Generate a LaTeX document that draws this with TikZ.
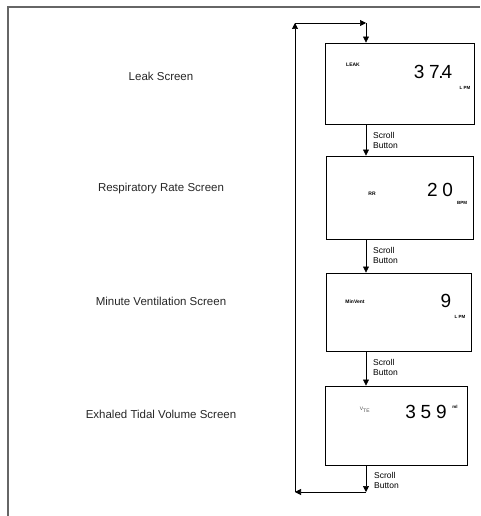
\documentclass[tikz,border=0pt]{standalone}
\usepackage{fontspec}
\setmainfont{Liberation Sans}
\newfontfamily\lcd[LetterSpace=25]{Liberation Sans}
\usetikzlibrary{arrows.meta}
\begin{document}
\begin{tikzpicture}[x=1pt,y=-1pt,
  screenbox/.style={draw,line width=0.9pt,inner sep=0pt},
  arr/.style={-{Triangle[length=6pt,width=6pt]},line width=0.7pt},
  scroll/.style={anchor=west,align=left,inner sep=0pt,font=\fontsize{8.5}{10}\selectfont},
  side/.style={inner sep=0pt,font=\fontsize{11.5}{13}\selectfont,text=black!85},
  digits/.style={inner sep=0pt,font=\lcd\fontsize{19}{19}\selectfont},
  tag/.style={inner sep=0pt,font=\bfseries\fontsize{5}{6}\selectfont},
  unit/.style={inner sep=0pt,font=\bfseries\fontsize{4.5}{5}\selectfont}]
\useasboundingbox (0,0) rectangle (480,516);
% frame
\draw[line width=1.5pt,black!60] (8,516) -- (8,7) -- (480,7);
% left labels
\node[side] (l1) at (161,76) {Leak Screen};
\node[side] (l2) at (161,189) {Respiratory Rate Screen};
\node[side] (l3) at (161,301) {Minute Ventilation Screen};
\node[side] (l4) at (161,414) {Exhaled Tidal Volume Screen};
% screens
\node[screenbox,minimum width=149pt,minimum height=81pt] (b1) at (399.5,83.5) {};
\node[screenbox,minimum width=147pt,minimum height=83pt] (b2) at (399.5,197.5) {};
\node[screenbox,minimum width=145pt,minimum height=78pt] (b3) at (398.5,312) {};
\node[screenbox,minimum width=142pt,minimum height=79pt] (b4) at (396,425.5) {};
% display contents
\node[tag] (t1) at (353,65) {LEAK};
\node[digits] (d1) at (433,71.5) {37\kern-1.5pt.\kern-2pt4};
\node[unit] (u1) at (465,88) {L PM};
\node[tag] (t2) at (372,194) {RR};
\node[digits] (d2) at (440,189.5) {20};
\node[unit] (u2) at (462,203) {BPM};
\node[tag] (t3) at (355,302) {MinVent};
\node[digits] (d3) at (446,301) {9};
\node[unit] (u3) at (460,317) {L PM};
\node[inner sep=0pt,font=\fontsize{5}{6}\selectfont,text=black!70] (t4) at (365,410) {V\textsubscript{TE}};
\node[digits] (d4) at (426,412) {359};
\node[unit] (u4) at (455,407) {ml};
% connectors
\coordinate (cx) at (366,0);
\coordinate (rt) at (366,23);
\coordinate (lt) at (295,23);
\coordinate (lb) at (295,492);
\coordinate (rb) at (366,492);
\draw[arr] (b1.south -| cx) -- (b2.north -| cx);
\draw[arr] (b2.south -| cx) -- (b3.north -| cx);
\draw[arr] (b3.south -| cx) -- (b4.north -| cx);
\draw[arr] (b4.south -| cx) -- (rb);
\draw[arr] (rb) -- (lb);
\draw[arr] (lb) -- (lt);
\draw[arr] (lt) -- (rt);
\draw[arr] (rt) -- (b1.north -| cx);
% scroll labels
\node[scroll] (s1) at (373,140) {Scroll\\Button};
\node[scroll] (s2) at (373,255) {Scroll\\Button};
\node[scroll] (s3) at (373,367) {Scroll\\Button};
\node[scroll] (s4) at (374,480) {Scroll\\Button};
\end{tikzpicture}
\end{document}
